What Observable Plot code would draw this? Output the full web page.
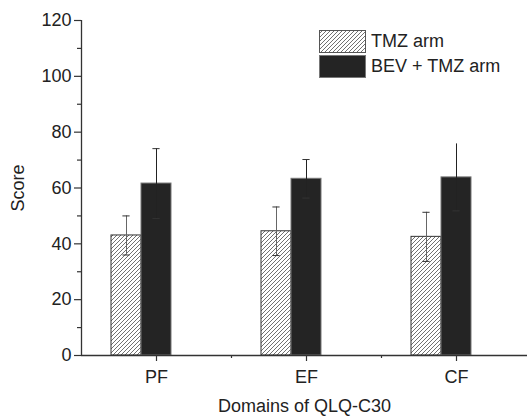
<!DOCTYPE html>
<html>
<head>
<meta charset="utf-8">
<script src="https://cdn.jsdelivr.net/npm/d3@7"></script>
<script src="https://cdn.jsdelivr.net/npm/@observablehq/plot@0.6"></script>
<style>
  html, body { margin: 0; padding: 0; background: #fff; }
  #wrap { position: relative; width: 527px; height: 417px; font-family: "Liberation Sans", Arial, sans-serif; color: #222; }
  #legend { position: absolute; left: 319px; top: 29px; font-size: 18px; }
  .row { display: flex; align-items: center; height: 25px; }
  .row svg { display: block; margin-right: 5px; }
</style>
</head>
<body>
<div id="wrap"></div>
<script>
// ---- data ----
const categories = ["PF", "EF", "CF"];
const seriesNames = ["TMZ arm", "BEV + TMZ arm"];
const tmzValues = [43.0, 44.5, 42.5];
const tmzErrors = [7.0, 8.7, 8.8];
const bevValues = [61.6, 63.3, 63.8];
const bevErrors = [12.5, 6.9, 12.0];
const yMajorTicks = [0, 20, 40, 60, 80, 100, 120];
const yMinorTicks = [10, 30, 50, 70, 90, 110];
const xLabel = "Domains of QLQ-C30";
const yLabel = "Score";

// table built from arrays
const rows = [];
categories.forEach((c, i) => {
  rows.push({cat: c, pos: i + 1, series: seriesNames[0], value: tmzValues[i], err: tmzErrors[i], off: -0.2, topCap: true});
  rows.push({cat: c, pos: i + 1, series: seriesNames[1], value: bevValues[i], err: bevErrors[i], off: 0, topCap: c !== "CF"});
});
const tmzRows = rows.filter(d => d.series === seriesNames[0]);
const bevRows = rows.filter(d => d.series === seriesNames[1]);
const halfBar = 0.1;   // bar half-width in category units
const cap = 0.024;     // error cap half-width

const xDomain = [0.5, categories.length + 0.5];
const minorX = d3.range(1.5, categories.length, 1);
const FS = 18;

const chart = Plot.plot({
  width: 527,
  height: 417,
  marginLeft: 81,
  marginRight: 0,
  marginTop: 20,
  marginBottom: 62,
  style: {fontFamily: "Liberation Sans, Arial, sans-serif", fontSize: FS + "px", color: "#222", background: "#fff"},
  x: {type: "linear", domain: xDomain, range: [81, 531]},
  y: {domain: [0, 120], range: [355, 20]},
  marks: [
    Plot.rectY(tmzRows, {x1: d => d.pos + d.off - halfBar, x2: d => d.pos + d.off + halfBar, y1: 0, y2: "value", fill: "url(#hatch)", stroke: "#333", strokeWidth: 1}),
    Plot.rectY(bevRows, {x1: d => d.pos + d.off - halfBar, x2: d => d.pos + d.off + halfBar, y1: 0, y2: "value", fill: "#242424", stroke: "#777", strokeWidth: 1}),
    // error bars
    Plot.ruleX(rows, {x: d => d.pos + d.off, y1: d => d.value - d.err, y2: d => d.value + d.err, stroke: d => d.series === seriesNames[0] ? "#666" : "#222", strokeWidth: 1}),
    Plot.ruleY(rows.filter(d => d.topCap), {y: d => d.value + d.err, x1: d => d.pos + d.off - cap, x2: d => d.pos + d.off + cap, stroke: "#333", strokeWidth: 1}),
    Plot.ruleY(rows, {y: d => d.value - d.err, x1: d => d.pos + d.off - cap, x2: d => d.pos + d.off + cap, stroke: "#333", strokeWidth: 1}),
    // axes lines
    Plot.ruleY([0], {stroke: "#333", strokeWidth: 1.3}),
    Plot.ruleX([xDomain[0]], {y1: 0, y2: 120, stroke: "#333", strokeWidth: 1.3}),
    // y axis
    Plot.axisY({ticks: yMajorTicks, tickSize: 7, tickPadding: 3, fontSize: FS, stroke: "#333", strokeWidth: 1.2, label: yLabel, labelAnchor: "center", labelOffset: 70, labelArrow: "none"}),
    Plot.axisY({ticks: yMinorTicks, tickSize: 4, text: null, stroke: "#333", strokeWidth: 1.2, label: null}),
    // x axis
    Plot.axisX({ticks: categories.map((c, i) => i + 1), tickFormat: d => categories[d - 1], tickSize: 6, tickPadding: 9, fontSize: FS, stroke: "#333", strokeWidth: 1.2, label: xLabel, labelAnchor: "center", labelOffset: 56, labelArrow: "none"}),
    Plot.axisX({ticks: minorX, tickSize: 3, text: null, stroke: "#333", strokeWidth: 1.2, label: null})
  ]
});

const ns = "http://www.w3.org/2000/svg";
const defs = document.createElementNS(ns, "defs");
defs.innerHTML = `<pattern id="hatch" patternUnits="userSpaceOnUse" width="4" height="4">
  <rect width="4" height="4" fill="#fff"/>
  <path d="M-1,1 l2,-2 M0,4 l4,-4 M3,5 l2,-2" stroke="#333" stroke-width="0.7"/>
</pattern>`;
chart.prepend(defs);

const wrap = document.getElementById("wrap");
wrap.appendChild(chart);

// legend
const legend = document.createElement("div");
legend.id = "legend";
const swatches = [
  {fill: "url(#hatchL)", stroke: "#555"},
  {fill: "#242424", stroke: "#777"}
];
seriesNames.forEach((name, i) => {
  const row = document.createElement("div");
  row.className = "row";
  row.innerHTML = `<svg width="47" height="23">
    <defs><pattern id="hatchL" patternUnits="userSpaceOnUse" width="4" height="4">
      <rect width="4" height="4" fill="#fff"/>
      <path d="M-1,1 l2,-2 M0,4 l4,-4 M3,5 l2,-2" stroke="#333" stroke-width="0.7"/>
    </pattern></defs>
    <rect x="0.5" y="0.5" width="46" height="22" fill="${swatches[i].fill}" stroke="${swatches[i].stroke}"/>
  </svg><span>${name}</span>`;
  legend.appendChild(row);
});
wrap.appendChild(legend);
</script>
</body>
</html>
